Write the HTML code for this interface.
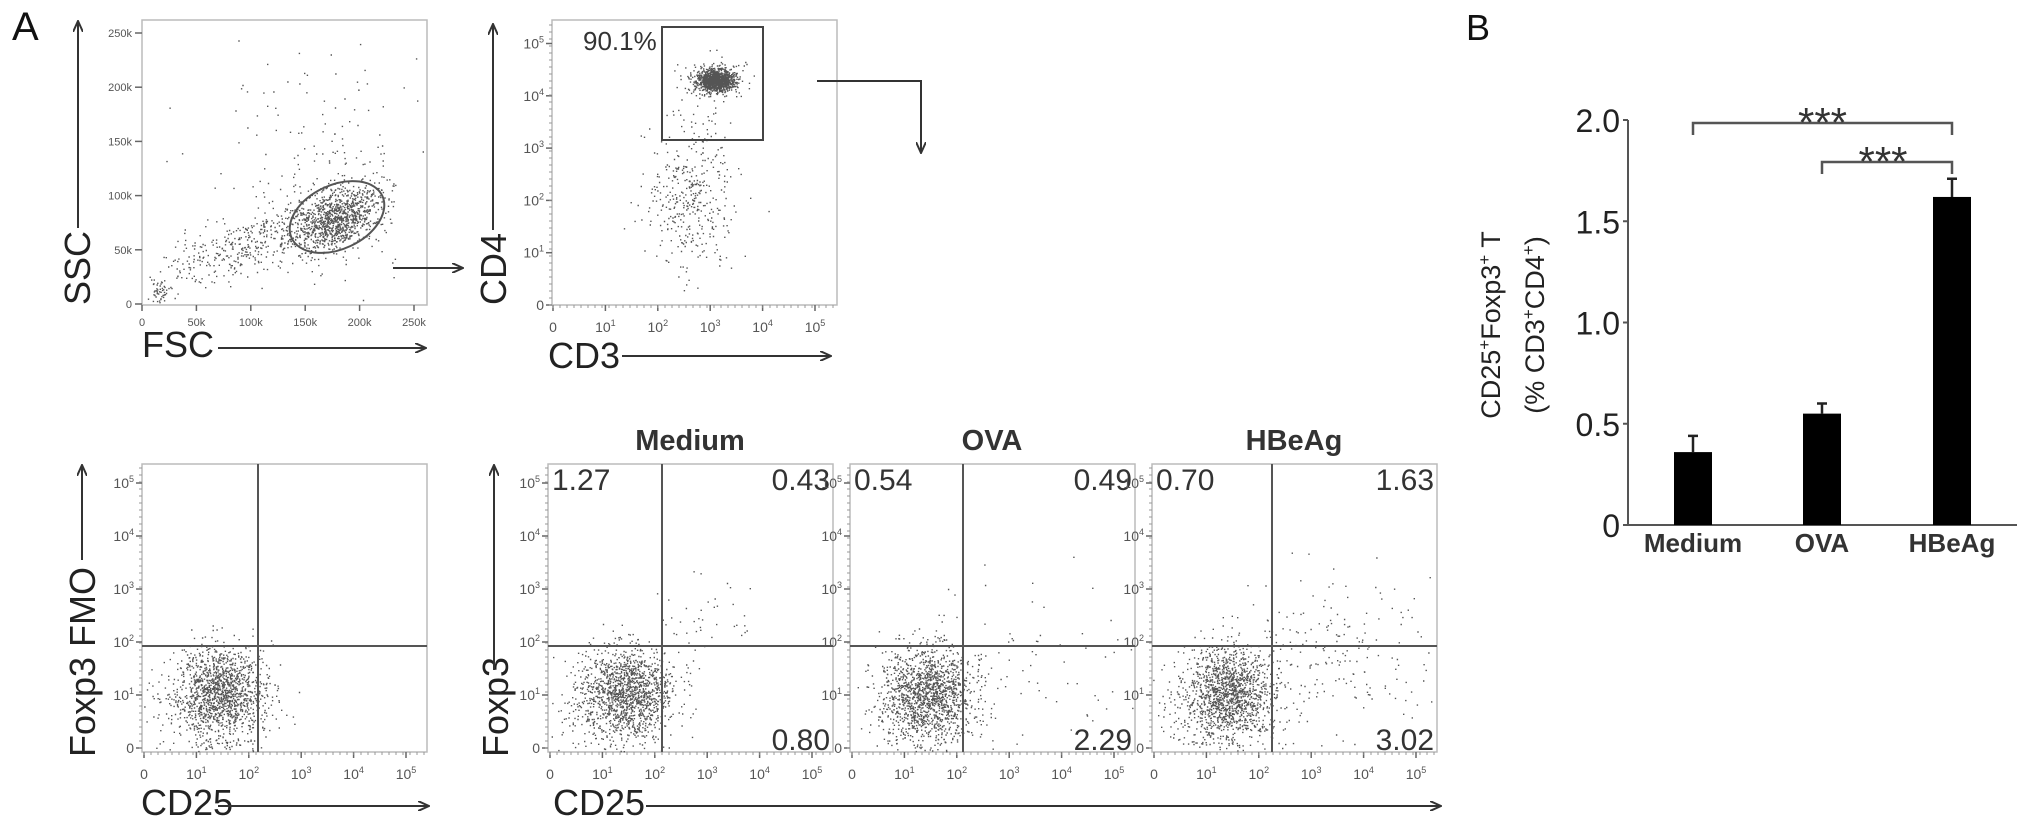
<!DOCTYPE html>
<html><head><meta charset="utf-8"><style>
html,body{margin:0;padding:0;background:#fff;}
svg{display:block;font-family:"Liberation Sans",Arial,sans-serif;}
</style></head><body>
<svg id="fig" width="2031" height="831" viewBox="0 0 2031 831" xmlns="http://www.w3.org/2000/svg">
<defs>
<marker id="ah" markerWidth="12" markerHeight="10" refX="10" refY="5" orient="auto" markerUnits="userSpaceOnUse"><path d="M0,0 L11,5 L0,10" fill="none" stroke="#333" stroke-width="2"/></marker>
</defs>
<g id="panelA"></g>
<g id="panelB"></g>
</svg>
<script>
// ---- Panel B data ----
const categories = ["Medium", "OVA", "HBeAg"];
const values = [0.36, 0.55, 1.62];
const errors = [0.08, 0.05, 0.09];
const yTicks = [0, 0.5, 1.0, 1.5, 2.0];
const yTickLabels = ["0", "0.5", "1.0", "1.5", "2.0"];
const sigPairs = [[0, 2], [1, 2]];
const sigLabels = ["***", "***"];
// ---- Flow panel labels ----
const flowTitles = ["Medium", "OVA", "HBeAg"];
const quadUL = ["1.27", "0.54", "0.70"];
const quadUR = ["0.43", "0.49", "1.63"];
const quadLR = ["0.80", "2.29", "3.02"];
const linTickLabels = ["0", "50k", "100k", "150k", "200k", "250k"];
const logTickLabels = ["0", "10", "10", "10", "10", "10"];
const logExp = ["", "1", "2", "3", "4", "5"];

const NS = "http://www.w3.org/2000/svg";
function mk(tag, attrs, parent, txt) {
  const e = document.createElementNS(NS, tag);
  for (const k in attrs) e.setAttribute(k, attrs[k]);
  if (txt !== undefined) e.textContent = txt;
  parent.appendChild(e);
  return e;
}
const A = document.getElementById("panelA");
const B = document.getElementById("panelB");

// seeded PRNG for decorative cytometry dot texture
let seed = 12345;
function rnd() { seed = (seed * 1103515245 + 12345) & 0x7fffffff; return seed / 0x7fffffff; }
function gauss() { let u = 0, v = 0; while (u === 0) u = rnd(); v = rnd(); return Math.sqrt(-2 * Math.log(u)) * Math.cos(2 * Math.PI * v); }

const c0 = "#555";
function dots(g, x0, y0, x1, y1, clusters) {
  let d = "";
  clusters.forEach(c => {
    for (let i = 0; i < c.n; i++) {
      let x = c.x + gauss() * c.sx, y = c.y + gauss() * c.sy;
      if (c.rot) { const dx = gauss() * c.sx, dy = gauss() * c.sy; x = c.x + dx * Math.cos(c.rot) - dy * Math.sin(c.rot); y = c.y + dx * Math.sin(c.rot) + dy * Math.cos(c.rot); }
      if (x < x0 + 1 || x > x1 - 1 || y < y0 + 1 || y > y1 - 1) continue;
      d += "M" + x.toFixed(1) + "," + y.toFixed(1) + "h1.4v1.4h-1.4z";
    }
  });
  const p = mk("path", { d: d, fill: c0 }, g);
  
  
}

function plotBox(g, x0, y0, w, h) {
  const r = mk("rect", { x: x0, y: y0, width: w, height: h, fill: "none", stroke: "#bbb", "stroke-width": 1.5 }, g);
  
  
}
function yTicksLog(g, x0, yBottom, step) {
  for (let i = 0; i < 6; i++) {
    const y = yBottom - step * i;
    mk("line", { x1: x0 - 6, y1: y, x2: x0, y2: y, stroke: "#666", "stroke-width": 1.5 }, g);
    const t = mk("text", { x: x0 - 8, y: y + 5, "font-size": 14, fill: "#555", "text-anchor": "end" }, g);
    
    
    if (i === 0) t.textContent = "0";
    else { mk("tspan", {}, t, logTickLabels[i]); mk("tspan", { dy: -6, "font-size": 9 }, t, logExp[i]); }
  }
  for (let y = yBottom; y > yBottom - step * 5.4; y -= 7) mk("line", { x1: x0 - 3, y1: y, x2: x0, y2: y, stroke: "#999", "stroke-width": 1 }, g);
}
function xTicksLog(g, x0, yBase, step) {
  for (let i = 0; i < 6; i++) {
    const x = x0 + step * i;
    mk("line", { x1: x, y1: yBase, x2: x, y2: yBase + 6, stroke: "#666", "stroke-width": 1.5 }, g);
    const t = mk("text", { x: x, y: yBase + 27, "font-size": 14, fill: "#555", "text-anchor": "middle" }, g);
    
    
    if (i === 0) t.textContent = "0";
    else { mk("tspan", {}, t, logTickLabels[i]); mk("tspan", { dy: -6, "font-size": 9 }, t, logExp[i]); }
  }
  for (let x = x0; x < x0 + step * 5.4; x += 7) mk("line", { x1: x, y1: yBase, x2: x, y2: yBase + 3, stroke: "#999", "stroke-width": 1 }, g);
}
function axisLabelV(g, x, yBottom, txt, name) {
  const t = mk("text", { x: 0, y: 0, "font-size": 36, fill: "#222", transform: "translate(" + x + "," + yBottom + ") rotate(-90)" }, g, txt);
  
  
  return t;
}
function axisLabelH(g, x, y, txt, name) {
  const t = mk("text", { x: x, y: y, "font-size": 36, fill: "#222" }, g, txt);
  
  
}
function arrow(g, x1, y1, x2, y2, name) {
  const l = mk("line", { x1: x1, y1: y1, x2: x2, y2: y2, stroke: "#333", "stroke-width": 2, "marker-end": "url(#ah)" }, g);
  
  
}

// Panel letter A
const la = mk("text", { x: 12, y: 40, "font-size": 40, fill: "#111" }, A, "A");



// ---- FSC/SSC plot ----
{
  const g = mk("g", {}, A);  
  plotBox(g, 142, 20, 285, 285);
  dots(g, 142, 20, 427, 305, [
    { x: 335, y: 218, sx: 24, sy: 14, n: 1100, rot: -0.45 },
    { x: 245, y: 245, sx: 40, sy: 14, n: 350, rot: -0.3 },
    { x: 320, y: 170, sx: 55, sy: 55, n: 180 },
    { x: 160, y: 292, sx: 5, sy: 9, n: 60 }
  ]);
  for (let i = 0; i < 6; i++) {
    const y = 304 - i * 54.2, x = 142 + i * 54.4;
    mk("line", { x1: 135, y1: y, x2: 142, y2: y, stroke: "#666", "stroke-width": 1.5 }, g);
    const t = mk("text", { x: 132, y: y + 4, "font-size": 11, fill: "#555", "text-anchor": "end" }, g, linTickLabels[i]);
     
    mk("line", { x1: x, y1: 305, x2: x, y2: 311, stroke: "#666", "stroke-width": 1.5 }, g);
    const t2 = mk("text", { x: x, y: 326, "font-size": 11, fill: "#555", "text-anchor": "middle" }, g, linTickLabels[i]);
     
  }
  const el = mk("ellipse", { cx: 337, cy: 217, rx: 50, ry: 32, transform: "rotate(-25 337 217)", fill: "none", stroke: "#555", "stroke-width": 2 }, g);
   
  axisLabelV(g, 90, 305, "SSC", "y-axis-title-ssc");
  arrow(g, 78, 228, 78, 22, "ssc-arrow");
  axisLabelH(g, 142, 357, "FSC", "x-axis-title-fsc");
  arrow(g, 218, 348, 425, 348, "fsc-arrow");
  arrow(g, 393, 268, 462, 268, "gate-arrow-1");
}

// ---- CD3/CD4 plot ----
{
  const g = mk("g", {}, A);  
  plotBox(g, 552, 20, 285, 285);
  dots(g, 552, 20, 837, 305, [
    { x: 715, y: 80, sx: 9, sy: 5, n: 1100 },
    { x: 715, y: 80, sx: 16, sy: 9, n: 200 },
    { x: 690, y: 200, sx: 22, sy: 32, n: 350 },
    { x: 700, y: 120, sx: 20, sy: 20, n: 40 }
  ]);
  yTicksLog(g, 552, 305, 52.3);
  xTicksLog(g, 553, 305, 52.4);
  const r = mk("rect", { x: 662, y: 27, width: 101, height: 113, fill: "none", stroke: "#444", "stroke-width": 2 }, g);
   
  const t = mk("text", { x: 583, y: 50, "font-size": 26, fill: "#333" }, g, "90.1%");
   
  axisLabelV(g, 506, 305, "CD4", "y-axis-title-cd4");
  arrow(g, 493, 230, 493, 25, "cd4-arrow");
  axisLabelH(g, 548, 368, "CD3", "x-axis-title-cd3");
  arrow(g, 622, 356, 830, 356, "cd3-arrow");
  const p = mk("path", { d: "M817,81 H921 V152", fill: "none", stroke: "#333", "stroke-width": 2, "marker-end": "url(#ah)" }, g);
   
}

// ---- Lower plots ----
const Y0 = 464, H = 288, YB = 752, QY = 646;
function lowerPlot(x0, qx, name, extra) {
  const g = mk("g", {}, A);  
  plotBox(g, x0, Y0, 285, H);
  const cl = [
    { x: x0 + 78, y: 690, sx: 22, sy: 22, n: 1200 },
    { x: x0 + 70, y: 715, sx: 30, sy: 25, n: 300 }
  ].concat(extra || []);
  dots(g, x0, Y0, x0 + 285, YB, cl);
  yTicksLog(g, x0, YB - 4, 53);
  xTicksLog(g, x0 + 2, YB, 52.4);
  mk("line", { x1: qx, y1: Y0, x2: qx, y2: YB, stroke: "#555", "stroke-width": 2 }, g);
  mk("line", { x1: x0, y1: QY, x2: x0 + 285, y2: QY, stroke: "#555", "stroke-width": 2 }, g);
  return g;
}
{
  const g = lowerPlot(142, 258, "fmo-plot", []);
  axisLabelV(g, 95, 757, "Foxp3  FMO", "y-axis-title-fmo");
  arrow(g, 82, 560, 82, 466, "fmo-arrow");
  axisLabelH(g, 141, 815, "CD25", "x-axis-title-cd25-fmo");
  arrow(g, 218, 806, 428, 806, "cd25-fmo-arrow");
}
const boxesX = [548, 850, 1152];
const quadX = [662, 963, 1272];
const extras = [
  [{ x: 700, y: 620, sx: 30, sy: 25, n: 40 }],
  [{ x: 1010, y: 660, sx: 60, sy: 40, n: 80 }],
  [{ x: 1330, y: 650, sx: 55, sy: 40, n: 200 }]
];
for (let i = 0; i < 3; i++) {
  const x0 = boxesX[i];
  const g = lowerPlot(x0, quadX[i], "foxp3-plot-" + flowTitles[i].toLowerCase(), extras[i]);
  const tt = mk("text", { x: x0 + 142, y: 450, "font-size": 29, "font-weight": "bold", fill: "#333", "text-anchor": "middle" }, g, flowTitles[i]);
   
  const a = mk("text", { x: x0 + 4, y: 490, "font-size": 30, fill: "#333" }, g, quadUL[i]);
   
  const b = mk("text", { x: x0 + 282, y: 490, "font-size": 30, fill: "#333", "text-anchor": "end" }, g, quadUR[i]);
   
  const c = mk("text", { x: x0 + 282, y: 750, "font-size": 30, fill: "#333", "text-anchor": "end" }, g, quadLR[i]);
   
}
axisLabelV(A, 508, 757, "Foxp3", "y-axis-title-foxp3");
arrow(A, 494, 670, 494, 466, "foxp3-arrow");
axisLabelH(A, 553, 815, "CD25", "x-axis-title-cd25");
arrow(A, 646, 806, 1440, 806, "cd25-arrow");

// ---- Panel B bar chart ----
const ax = { x0: 1628, x1: 2017, yb: 525, yt: 120, vmax: 2.0 };
const centers = [1693, 1822, 1952];
function ys(v) { return ax.yb - (v / ax.vmax) * (ax.yb - ax.yt); }
const lb = mk("text", { x: 1466, y: 40, "font-size": 36, fill: "#111" }, B, "B");
 
const yAx = mk("line", { x1: ax.x0, y1: ax.yt, x2: ax.x0, y2: ax.yb, stroke: "#555", "stroke-width": 2 }, B);


const xAx = mk("line", { x1: ax.x0, y1: ax.yb, x2: ax.x1, y2: ax.yb, stroke: "#555", "stroke-width": 2 }, B);


yTicks.forEach((v, i) => {
  mk("line", { x1: ax.x0 - 5, y1: ys(v), x2: ax.x0, y2: ys(v), stroke: "#555", "stroke-width": 2 }, B);
  const t = mk("text", { x: ax.x0 - 8, y: ys(v) + 12, "font-size": 32, fill: "#222", "text-anchor": "end" }, B, yTickLabels[i]);
   
});
categories.forEach((c, i) => {
  const cx = centers[i], top = ys(values[i]), et = ys(values[i] + errors[i]);
  const r = mk("rect", { x: cx - 19, y: top, width: 38, height: ax.yb - top, fill: "#000" }, B);
   
  const e = mk("path", { d: "M" + cx + "," + top + " V" + et + " M" + (cx - 5) + "," + et + " H" + (cx + 5), stroke: "#222", "stroke-width": 2.5, fill: "none" }, B);
   
  const t = mk("text", { x: cx, y: 552, "font-size": 26, "font-weight": "bold", fill: "#333", "text-anchor": "middle" }, B, c);
   
});
const brY = [123, 162];
sigPairs.forEach((p, i) => {
  const xa = centers[p[0]], xb = centers[p[1]], y = brY[i];
  const br = mk("path", { d: "M" + xa + "," + (y + 12) + " V" + y + " H" + xb + " V" + (y + 12), stroke: "#555", "stroke-width": 2.5, fill: "none" }, B);
   
  const t = mk("text", { x: (xa + xb) / 2 + (i === 0 ? 0 : -4), y: y + 14, "font-size": 42, fill: "#333", "text-anchor": "middle" }, B, sigLabels[i]);
   
});
// y axis title
{
  const g = mk("g", { transform: "translate(1512,325) rotate(-90)" }, B);
   
  const t1 = mk("text", { x: 0, y: -12, "font-size": 27, fill: "#222", "text-anchor": "middle" }, g);
  mk("tspan", {}, t1, "CD25"); mk("tspan", { dy: -10, "font-size": 17 }, t1, "+"); mk("tspan", { dy: 10 }, t1, "Foxp3");
  mk("tspan", { dy: -10, "font-size": 17 }, t1, "+"); mk("tspan", { dy: 10 }, t1, " T");
  const t2 = mk("text", { x: 0, y: 32, "font-size": 27, fill: "#222", "text-anchor": "middle" }, g);
  mk("tspan", {}, t2, "(% CD3"); mk("tspan", { dy: -10, "font-size": 17 }, t2, "+"); mk("tspan", { dy: 10 }, t2, "CD4");
  mk("tspan", { dy: -10, "font-size": 17 }, t2, "+"); mk("tspan", { dy: 10 }, t2, ")");
}
</script>
</body></html>
